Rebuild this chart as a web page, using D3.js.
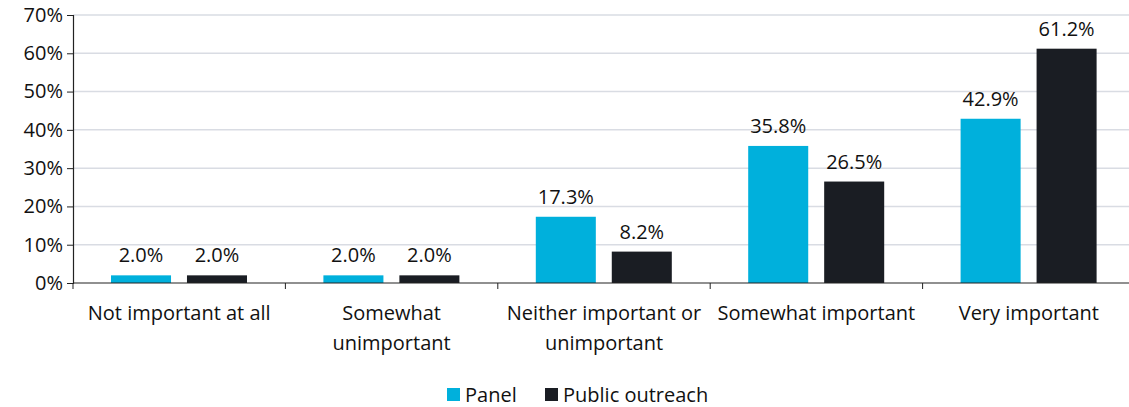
<!DOCTYPE html>
<html>
<head>
<meta charset="utf-8">
<script src="https://cdn.jsdelivr.net/npm/d3@7/dist/d3.min.js"></script>
<style>
  html, body { margin: 0; padding: 0; background: #fff; }
  svg { display: block; font-family: "Open Sans", Lato, sans-serif; }
</style>
</head>
<body>
<svg id="chart" width="1129" height="407"></svg>
<script>
const categories = [
  ["Not important at all"],
  ["Somewhat", "unimportant"],
  ["Neither important or", "unimportant"],
  ["Somewhat important"],
  ["Very important"]
];
const seriesNames = ["Panel", "Public outreach"];
const panelValues = [2.0, 2.0, 17.3, 35.8, 42.9];
const publicValues = [2.0, 2.0, 8.2, 26.5, 61.2];
const yTicks = [0, 10, 20, 30, 40, 50, 60, 70];
const colors = ["#00B0DC", "#1A1D23"];
const fontSize = 20;

const svg = d3.select("#chart");
const margin = { left: 73, right: -6, top: 15, bottom: 124 };
const width = 1129 - margin.left - margin.right;
const height = 407 - margin.top - margin.bottom;
const g = svg.append("g").attr("transform", `translate(${margin.left},${margin.top})`);

const x0 = d3.scaleBand().domain(d3.range(categories.length)).range([0, width]).paddingInner(0).paddingOuter(0);
const x1 = d3.scaleBand().domain([0, 1]).range([38, 174]).paddingInner(0.21);
const y = d3.scaleLinear().domain([0, 70]).range([height, 0]);

// gridlines
g.append("g").selectAll("line").data(yTicks.slice(1)).join("line")
  .attr("x1", 0).attr("x2", width)
  .attr("y1", d => y(d)).attr("y2", d => y(d))
  .attr("stroke", "#D9DCE3").attr("stroke-width", 1.5);

// y axis
const yAxis = g.append("g").call(d3.axisLeft(y).tickValues(yTicks).tickFormat(d => d + "%").tickSize(6).tickPadding(4));
yAxis.select(".domain").attr("stroke", "#222").attr("stroke-width", 1.2);
yAxis.selectAll(".tick line").attr("stroke", "#222");
yAxis.selectAll("text").attr("font-size", fontSize).attr("fill", "#111").attr("font-family", "'Open Sans', sans-serif");

// bars
const series = [panelValues, publicValues];
const groups = g.append("g").selectAll("g").data(categories).join("g")
  .attr("transform", (d, i) => `translate(${x0(i)},0)`);
groups.each(function(c, i) {
  const grp = d3.select(this);
  series.forEach((vals, s) => {
    grp.append("rect")
      .attr("x", x1(s)).attr("width", x1.bandwidth())
      .attr("y", y(vals[i])).attr("height", height - y(vals[i]))
      .attr("fill", colors[s]);
    grp.append("text")
      .attr("x", x1(s) + x1.bandwidth() / 2)
      .attr("y", y(vals[i]) - 13)
      .attr("text-anchor", "middle")
      .attr("font-size", fontSize).attr("fill", "#111")
      .text(vals[i].toFixed(1) + "%");
  });
});

// x axis
const xAxisG = g.append("g").attr("transform", `translate(0,${height})`);
xAxisG.append("line").attr("x1", 0).attr("x2", width).attr("stroke", "#222").attr("stroke-width", 1.2);
xAxisG.selectAll("line.tick").data(d3.range(categories.length + 1)).join("line")
  .attr("class", "tick")
  .attr("x1", i => i * x0.step()).attr("x2", i => i * x0.step())
  .attr("y1", 0).attr("y2", 6).attr("stroke", "#222");
xAxisG.selectAll("text.cat").data(categories).join("text")
  .attr("class", "cat")
  .attr("text-anchor", "middle")
  .attr("font-size", fontSize).attr("fill", "#111")
  .attr("x", (d, i) => x0(i) + x0.bandwidth() / 2)
  .each(function(lines) {
    const t = d3.select(this);
    lines.forEach((ln, k) => t.append("tspan")
      .attr("x", t.attr("x")).attr("y", 37 + k * 30).text(ln));
  });

// legend
const legend = svg.append("g").attr("transform", "translate(447,388)");
const legendX = [0, 98];
seriesNames.forEach((name, s) => {
  legend.append("rect").attr("x", legendX[s]).attr("y", 0).attr("width", 13).attr("height", 13).attr("fill", colors[s]);
  legend.append("text").attr("x", legendX[s] + 18).attr("y", 14)
    .attr("font-size", fontSize).attr("fill", "#111").text(name);
});
</script>
</body>
</html>
